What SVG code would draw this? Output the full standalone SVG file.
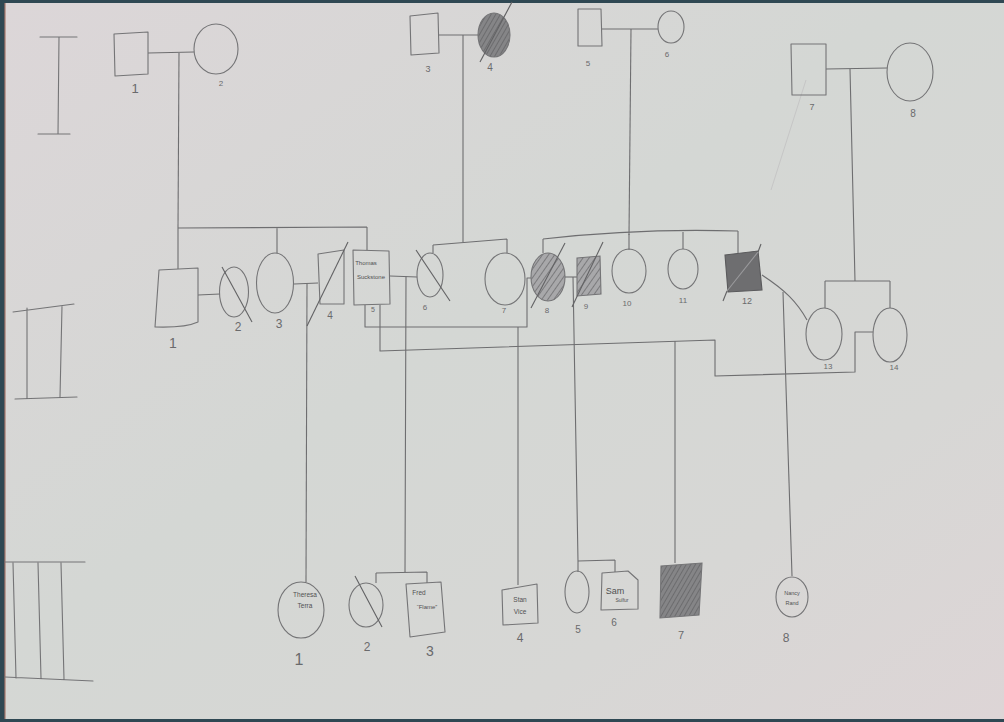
<svg xmlns="http://www.w3.org/2000/svg" width="1004" height="722" viewBox="0 0 1004 722">
<defs>
<linearGradient id="paper" x1="0" y1="0" x2="1" y2="1">
<stop offset="0" stop-color="#dcd6d8"/>
<stop offset="0.45" stop-color="#d4d7d4"/>
<stop offset="0.75" stop-color="#d7d7d5"/>
<stop offset="1" stop-color="#ddd5d6"/>
</linearGradient>
<pattern id="hatch" width="5" height="5" patternUnits="userSpaceOnUse" patternTransform="rotate(35)">
<rect width="5" height="5" fill="#a8a8aa"/>
<line x1="0" y1="0" x2="0" y2="5" stroke="#6e6e70" stroke-width="1.6"/>
</pattern>
<pattern id="hatchDark" width="4" height="4" patternUnits="userSpaceOnUse" patternTransform="rotate(30)">
<rect width="4" height="4" fill="#858587"/>
<line x1="0" y1="0" x2="0" y2="4" stroke="#646466" stroke-width="1.5"/>
</pattern>
</defs>
<style>
.s{fill:none;stroke:#747476;stroke-width:1.1;stroke-linejoin:round;stroke-linecap:round}
.n{fill:none;stroke:#747476;stroke-width:1.1}
.c{fill:none;stroke:#6e6e70;stroke-width:1.1;stroke-linejoin:round}
.sl{stroke:#626264;stroke-width:1.1}
.t{font-family:"Liberation Sans",Arial,sans-serif;fill:#6a6a6c;text-anchor:middle}
.h{font-family:"Liberation Sans",Arial,sans-serif;fill:#505052;text-anchor:middle}
</style>
<rect width="1004" height="722" fill="#2f4853"/>
<rect x="5" y="3" width="999" height="716" fill="url(#paper)"/>
<rect x="4" y="3" width="2" height="716" fill="#a8786c" opacity="0.6"/>

<g id="generation-labels" class="s">
<path d="M40,37 L77,37 M59,37 L58,134 M38,134 L70,134"/>
<path d="M13,312 L74,304 M27,308 L27,398 M62,306 L60,397 M15,399 L77,397"/>
<path d="M5,562 L85,562 M13,563 L16,678 M38,563 L41,678 M61,563 L64,679 M5,677 L93,681"/>
</g>

<g id="connectors" class="c">
<path d="M148,53 L194,52"/>
<path d="M179,53 L178,228"/>
<path d="M178,228 L367,227 M178,228 L178,269 M277,227 L277,253 M367,227 L367,250"/>
<path d="M198,295 L220,294"/>
<path d="M294,284 L318,283"/>
<path d="M307,284 L306,582"/>
<path d="M390,276 L417,277"/>
<path d="M406,276 L405,573 M376,573 L427,572 M376,573 L376,583 M427,572 L427,583"/>
<path d="M439,35 L479,35"/>
<path d="M463,35 L463,242 M433,245 L507,239 M433,245 L433,253 M507,239 L507,253"/>
<path d="M365,305 L365,327 L527,327 L527,278 L531,278"/>
<path d="M518,327 L518,585"/>
<path d="M380,305 L380,351 L715,340 L715,376 L855,372 L855,332 L873,332"/>
<path d="M675,341 L675,563"/>
<path d="M602,29 L658,29"/>
<path d="M631,29 L629,235"/>
<path d="M543,239 Q640,228 738,231 M543,239 L543,253 M629,234 L629,250 M683,232 L683,249 M738,231 L738,253"/>
<path d="M565,277 L577,277"/>
<path d="M573,277 L578,561 M578,561 L615,560 M578,561 L578,572 M615,560 L615,572"/>
<path d="M826,69 L887,68"/>
<path d="M850,69 L855,281 M825,281 L890,281 M825,281 L825,308 M890,281 L890,308"/>
<path d="M762,275 C785,290 797,302 807,320"/>
<path d="M783,292 L792,576"/>
<path d="M806,80 L771,190" stroke="#c6c6c6" stroke-width="1"/>
</g>

<g id="I-1"><path class="s" d="M114,34 L148,32 L148,74 L115,76 Z"/><text class="t" x="135" y="93" font-size="13">1</text></g>
<g id="I-2"><ellipse class="n" cx="216" cy="49" rx="22" ry="25"/><text class="t" x="221" y="86" font-size="8">2</text></g>
<g id="I-3"><path class="s" d="M410,16 L438,13 L439,53 L411,55 Z"/><text class="t" x="428" y="72" font-size="9">3</text></g>
<g id="I-4"><ellipse cx="494" cy="35" rx="16" ry="22" fill="url(#hatchDark)" stroke="#747476" stroke-width="1.1"/><line class="sl" x1="480" y1="62" x2="512" y2="2"/><text class="t" x="490" y="71" font-size="10">4</text></g>
<g id="I-5"><path class="s" d="M578,9 L601,9 L602,46 L578,46 Z"/><text class="t" x="588" y="66" font-size="8">5</text></g>
<g id="I-6"><ellipse class="n" cx="671" cy="27" rx="13" ry="16"/><text class="t" x="667" y="57" font-size="8">6</text></g>
<g id="I-7"><path class="s" d="M791,44 L826,44 L826,95 L792,95 Z"/><text class="t" x="812" y="110" font-size="9">7</text></g>
<g id="I-8"><ellipse class="n" cx="910" cy="72" rx="23" ry="29"/><text class="t" x="913" y="117" font-size="10">8</text></g>

<g id="II-1"><path class="s" d="M159,270 L198,268 L198,322 Q185,328 155,327 Z"/><text class="t" x="173" y="348" font-size="14">1</text></g>
<g id="II-2"><ellipse class="n" cx="234" cy="292" rx="14.5" ry="25"/><line class="sl" x1="222" y1="267" x2="252" y2="322"/><text class="t" x="238" y="331" font-size="12">2</text></g>
<g id="II-3"><ellipse class="n" cx="275" cy="283" rx="18.5" ry="30"/><text class="t" x="279" y="328" font-size="12">3</text></g>
<g id="II-4"><path class="s" d="M318,254 L344,250 L344,304 L320,304 Z"/><line class="sl" x1="348" y1="242" x2="307" y2="326"/><text class="t" x="330" y="319" font-size="10">4</text></g>
<g id="II-5"><path class="s" d="M353,250 L389,251 L390,304 L354,305 Z"/><text class="h" x="366" y="265" font-size="6">Thomas</text><text class="h" x="371" y="279" font-size="6">Suckstone</text><text class="t" x="373" y="312" font-size="7">5</text></g>
<g id="II-6"><ellipse class="n" cx="430" cy="275" rx="13" ry="22"/><line class="sl" x1="416" y1="250" x2="450" y2="301"/><text class="t" x="425" y="310" font-size="8">6</text></g>
<g id="II-7"><ellipse class="n" cx="505" cy="279" rx="20" ry="26"/><text class="t" x="504" y="313" font-size="8">7</text></g>
<g id="II-8"><ellipse cx="548" cy="277" rx="17" ry="24" fill="url(#hatch)" stroke="#747476" stroke-width="1.1"/><line class="sl" x1="565" y1="243" x2="531" y2="308"/><text class="t" x="547" y="313" font-size="8">8</text></g>
<g id="II-9"><path d="M577,258 L600,256 L601,294 L577,296 Z" fill="url(#hatch)" stroke="#747476" stroke-width="1.1"/><line class="sl" x1="603" y1="242" x2="572" y2="307"/><text class="t" x="586" y="309" font-size="8">9</text></g>
<g id="II-10"><ellipse class="n" cx="629" cy="271" rx="17" ry="22"/><text class="t" x="627" y="306" font-size="8">10</text></g>
<g id="II-11"><ellipse class="n" cx="683" cy="269" rx="15" ry="20"/><text class="t" x="683" y="303" font-size="8">11</text></g>
<g id="II-12"><path d="M725,255 L758,251 L762,290 L728,292 Z" fill="#6e6e70" stroke="#5a5a5c" stroke-width="1.1"/><line stroke="#9a9a9c" stroke-width="1.1" x1="758" y1="252" x2="727" y2="291"/><line class="sl" x1="761" y1="244" x2="758" y2="252"/><line class="sl" x1="727" y1="291" x2="723" y2="301"/><text class="t" x="747" y="304" font-size="9">12</text></g>
<g id="II-13"><ellipse class="n" cx="824" cy="334" rx="18" ry="26"/><text class="t" x="828" y="369" font-size="8">13</text></g>
<g id="II-14"><ellipse class="n" cx="890" cy="335" rx="17" ry="27"/><text class="t" x="894" y="370" font-size="8">14</text></g>

<g id="III-1"><ellipse class="n" cx="301" cy="610" rx="23" ry="28"/><text class="h" x="305" y="597" font-size="6.5">Theresa</text><text class="h" x="305" y="608" font-size="6.5">Terra</text><text class="t" x="299" y="665" font-size="16">1</text></g>
<g id="III-2"><ellipse class="n" cx="366" cy="605" rx="17" ry="22"/><line class="sl" x1="355" y1="576" x2="382" y2="627"/><text class="t" x="367" y="651" font-size="12">2</text></g>
<g id="III-3"><path class="s" d="M406,584 L441,582 L445,632 L410,637 Z"/><text class="h" x="419" y="595" font-size="6.5">Fred</text><text class="h" x="427" y="609" font-size="6">“Flame”</text><text class="t" x="430" y="656" font-size="14">3</text></g>
<g id="III-4"><path class="s" d="M502,590 L537,584 L538,623 L503,625 Z"/><text class="h" x="520" y="602" font-size="6.5">Stan</text><text class="h" x="520" y="614" font-size="6.5">Vice</text><text class="t" x="520" y="642" font-size="12">4</text></g>
<g id="III-5"><ellipse class="n" cx="577" cy="592" rx="12" ry="21"/><text class="t" x="578" y="633" font-size="10">5</text></g>
<g id="III-6"><path class="s" d="M602,573 L628,571 L638,580 L638,609 L601,610 Z"/><text class="h" x="615" y="594" font-size="9">Sam</text><text class="h" x="622" y="602" font-size="5">Sulfur</text><text class="t" x="614" y="626" font-size="10">6</text></g>
<g id="III-7"><path d="M661,566 L702,563 L699,615 L660,618 Z" fill="url(#hatchDark)" stroke="#747476" stroke-width="1.1"/><text class="t" x="681" y="639" font-size="11">7</text></g>
<g id="III-8"><ellipse class="n" cx="792" cy="597" rx="16" ry="20"/><text class="h" x="792" y="595" font-size="5.5">Nancy</text><text class="h" x="792" y="605" font-size="5.5">Rand</text><text class="t" x="786" y="642" font-size="12">8</text></g>
</svg>
